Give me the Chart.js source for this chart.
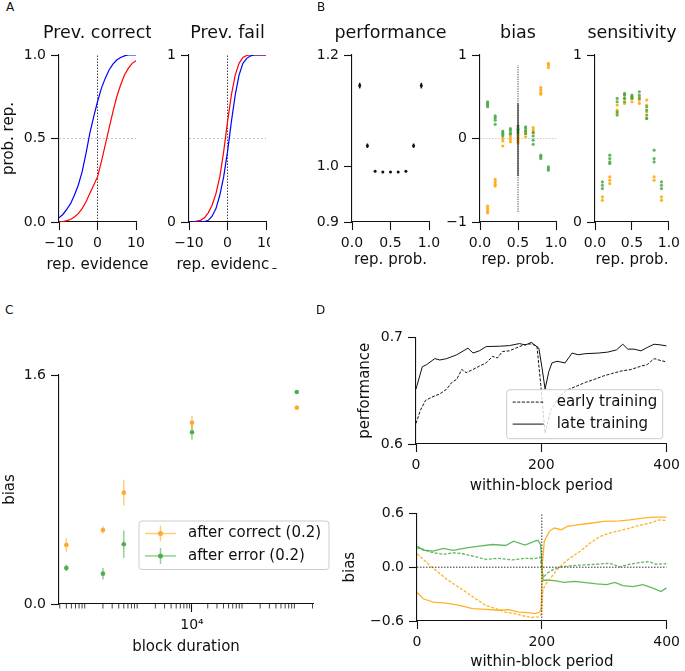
<!DOCTYPE html>
<html>
<head>
<meta charset="utf-8">
<script src="https://cdn.jsdelivr.net/npm/chart.js@4.4.1/dist/chart.umd.min.js"></script>
<style>
  body { margin: 0; width: 685px; height: 671px; background: #fff; position: relative; overflow: hidden; font-family: 'DejaVu Sans', sans-serif; }
  canvas { position: absolute; }
  .lab { position: absolute; font-size: 12px; line-height: 12px; color: #111; z-index: 5; }
</style>
</head>
<body>
<div class="lab" style="left:6px;top:1px">A</div>
<div class="lab" style="left:317px;top:1px">B</div>
<div class="lab" style="left:5px;top:304px">C</div>
<div class="lab" style="left:316px;top:304px">D</div>
<script>
// ---- data ----
// A: psychometric curves
const evidence = [-10, -9, -8, -7, -6, -5, -4, -3, -2, -1, 0, 1, 2, 3, 4, 5, 6, 7, 8, 9, 10];
const corrBlue = [0.025, 0.045, 0.075, 0.11, 0.16, 0.22, 0.30, 0.41, 0.53, 0.63, 0.72, 0.80, 0.86, 0.91, 0.945, 0.97, 0.985, 0.995, 1, 1, 1];
const corrRed = [0, 0.003, 0.008, 0.015, 0.03, 0.05, 0.08, 0.12, 0.17, 0.22, 0.27, 0.36, 0.46, 0.56, 0.66, 0.75, 0.82, 0.88, 0.92, 0.95, 0.965];
const failRed = [0, 0, 0.005, 0.01, 0.025, 0.055, 0.1, 0.17, 0.27, 0.42, 0.6, 0.76, 0.88, 0.95, 0.985, 0.997, 1, 1, 1, 1, 1];
const failBlue = [0, 0, 0, 0, 0.002, 0.01, 0.035, 0.08, 0.16, 0.27, 0.42, 0.6, 0.76, 0.88, 0.95, 0.98, 0.995, 1, 1, 1, 1];
const chanceLevel = [0.5, 0.5];
const evidenceRange = [-10, 10];

// B: per repetition probability
const repProb = [0.1, 0.2, 0.3, 0.4, 0.5, 0.6, 0.7, 0.8, 0.9];
const perf = [1.145, 1.037, 0.991, 0.99, 0.99, 0.99, 0.991, 1.037, 1.145];
const perfErr = [0.005, 0.004, 0.001, 0.001, 0.001, 0.001, 0.001, 0.004, 0.005];
const biasGreen = [
  [0.44, 0.42, 0.40, 0.38], [0.27, 0.25, 0.22, 0.17], [0.09, 0.07, 0.05, 0.03],
  [0.12, 0.10, 0.07, 0.05], [0.15, 0.12, 0.10, 0.07], [0.14, 0.12, 0.09, 0.06],
  [0.07, 0.03, -0.02, -0.07], [-0.20, -0.22, -0.24], [-0.34, -0.36, -0.38]
];
const biasOrange = [
  [-0.81, -0.84, -0.87, -0.89], [-0.49, -0.52, -0.55, -0.57], [0.0, -0.03, -0.09],
  [0.02, -0.01, -0.04], [0.04, 0.01, -0.02, -0.05], [0.09, 0.06, 0.02],
  [0.13, 0.10, 0.07], [0.61, 0.58, 0.55, 0.53], [0.90, 0.88, 0.85]
];
const biasMidDotted = [-0.88, 0.88];
const biasMidSolid = [-0.45, 0.42];
const sensGreen = [
  [0.24, 0.22, 0.20], [0.40, 0.38, 0.36, 0.35], [0.74, 0.72, 0.66, 0.64],
  [0.77, 0.76, 0.74, 0.72], [0.76, 0.75, 0.74], [0.78, 0.76, 0.74],
  [0.69, 0.67, 0.64, 0.62], [0.43, 0.38, 0.36], [0.24, 0.22, 0.20]
];
const sensOrange = [
  [0.15, 0.13], [0.27, 0.25, 0.23], [0.70, 0.67, 0.65],
  [0.76, 0.74, 0.71], [0.75, 0.74, 0.72], [0.75, 0.73, 0.71],
  [0.73, 0.70, 0.66, 0.62], [0.27, 0.25], [0.15, 0.13]
];

// C: bias vs block duration
const blockDur = [40, 200, 500, 10000, 1000000];
const afterCorrect = [0.412, 0.517, 0.778, 1.267, 1.372];
const afterCorrectErr = [0.047, 0.026, 0.09, 0.047, 0.008];
const afterError = [0.252, 0.212, 0.417, 1.2, 1.481];
const afterErrorErr = [0.023, 0.04, 0.096, 0.052, 0.008];
const minorDur = [1, 2, 3, 4, 5, 6].flatMap(n => [2, 3, 4, 5, 6, 7, 8, 9].map(k => k * Math.pow(10, n)));

// D: within-block period
const lateX = [0, 10, 17, 30, 38, 49, 65, 83, 91, 101, 112, 133, 149, 165, 175, 184, 196, 201, 206, 212, 217, 225, 238, 249, 259, 270, 291, 306, 320, 330, 338, 348, 359, 369, 380, 391, 400];
const lateY = [0.6515, 0.6724, 0.6745, 0.6801, 0.6788, 0.6801, 0.6837, 0.6899, 0.6853, 0.6874, 0.6914, 0.6917, 0.6923, 0.6942, 0.6929, 0.6954, 0.6899, 0.672, 0.6515, 0.668, 0.6761, 0.6776, 0.6761, 0.6853, 0.6837, 0.6847, 0.6853, 0.6862, 0.6883, 0.6936, 0.689, 0.689, 0.6874, 0.6905, 0.6936, 0.6929, 0.692];
const earlyX = [0, 7, 15, 25, 38, 49, 57, 65, 73, 80, 91, 101, 112, 122, 130, 138, 149, 159, 172, 183, 193, 199, 206, 215, 228, 241, 254, 270, 285, 299, 312, 327, 343, 359, 369, 380, 391, 400];
const earlyY = [0.6193, 0.6316, 0.6408, 0.6439, 0.647, 0.6515, 0.6577, 0.6607, 0.6699, 0.6669, 0.6699, 0.673, 0.6761, 0.6822, 0.6807, 0.6868, 0.6874, 0.6899, 0.6929, 0.6939, 0.692, 0.6561, 0.6101, 0.6316, 0.6439, 0.6506, 0.6537, 0.6577, 0.6607, 0.6638, 0.666, 0.6684, 0.6699, 0.673, 0.6745, 0.6801, 0.6782, 0.677];

const orangeLateX = [0, 10, 26, 47, 68, 89, 110, 131, 147, 163, 178, 189, 197, 199, 201, 204, 212, 220, 231, 241, 257, 278, 299, 325, 341, 362, 377, 400];
const orangeLateY = [-0.279, -0.352, -0.389, -0.4, -0.426, -0.462, -0.47, -0.48, -0.473, -0.5, -0.506, -0.517, -0.5, -0.45, 0.05, 0.29, 0.4, 0.437, 0.418, 0.455, 0.473, 0.49, 0.51, 0.517, 0.528, 0.547, 0.558, 0.558];
const orangeEarlyX = [0, 10, 21, 31, 47, 63, 79, 94, 110, 126, 142, 157, 173, 183, 194, 199, 202, 206, 215, 225, 236, 246, 262, 278, 294, 309, 325, 341, 356, 372, 388, 400];
const orangeEarlyY = [0.15, 0.088, 0.015, -0.04, -0.132, -0.206, -0.279, -0.352, -0.426, -0.462, -0.5, -0.517, -0.547, -0.561, -0.554, -0.53, -0.25, -0.19, -0.114, -0.022, 0.051, 0.106, 0.18, 0.272, 0.345, 0.382, 0.407, 0.437, 0.466, 0.49, 0.528, 0.521];
const greenLateX = [0, 10, 26, 42, 58, 79, 100, 121, 142, 155, 173, 189, 194, 198, 202, 207, 220, 236, 252, 267, 288, 304, 317, 330, 346, 362, 377, 391, 400];
const greenLateY = [0.235, 0.19, 0.18, 0.209, 0.187, 0.216, 0.235, 0.253, 0.242, 0.29, 0.246, 0.29, 0.3, 0.25, -0.15, -0.143, -0.15, -0.169, -0.158, -0.169, -0.187, -0.194, -0.169, -0.206, -0.217, -0.194, -0.231, -0.272, -0.231];
const greenEarlyX = [0, 10, 26, 42, 58, 73, 89, 110, 131, 152, 173, 189, 197, 202, 210, 220, 231, 246, 267, 288, 309, 325, 341, 356, 372, 383, 400];
const greenEarlyY = [0.216, 0.198, 0.161, 0.143, 0.161, 0.15, 0.125, 0.088, 0.099, 0.081, 0.099, 0.095, 0.114, -0.114, -0.059, -0.022, 0.004, 0.015, 0.026, 0.033, 0.044, 0.004, 0.033, 0.051, 0.062, 0.033, 0.04];
const switchPoint = [200, 200];
const periodRange = [0, 400];

// ---- styling ----
const ORANGE = 'rgba(255,165,0,0.85)';
const GREEN = 'rgba(60,165,60,0.8)';
const INK = '#111';
const FONT = "'DejaVu Sans', sans-serif";

Chart.defaults.font.family = FONT;
Chart.defaults.color = INK;
Chart.defaults.animation = false;
Chart.defaults.plugins.legend.display = false;
Chart.defaults.plugins.tooltip.enabled = false;

// error bars drawn under the points
Chart.register({
  id: 'errorBars',
  beforeDatasetsDraw(chart) {
    const ctx = chart.ctx, ys = chart.scales.y;
    chart.data.datasets.forEach((ds, i) => {
      if (!ds.errors) return;
      const meta = chart.getDatasetMeta(i);
      ctx.save();
      ctx.strokeStyle = ds.errorColor || ds.backgroundColor;
      ctx.lineWidth = ds.errorWidth || 1.5;
      meta.data.forEach((el, j) => {
        const v = ds.data[j].y, e = ds.errors[j];
        ctx.beginPath();
        ctx.moveTo(el.x, ys.getPixelForValue(v - e));
        ctx.lineTo(el.x, ys.getPixelForValue(v + e));
        ctx.stroke();
      });
      ctx.restore();
    });
  }
});

// axes title above and x label below, centred on the plot area and not squeezed
Chart.register({
  id: 'panelTitle',
  afterDraw(chart, args, o) {
    const {ctx, chartArea: a} = chart;
    const cx = (a.left + a.right) / 2;
    ctx.save();
    ctx.fillStyle = INK;
    ctx.textAlign = 'center';
    ctx.textBaseline = 'middle';
    if (o.text) {
      ctx.font = '17.5px ' + FONT;
      ctx.fillText(o.text, cx, a.top - 22);
    }
    if (o.xlabel) {
      ctx.font = '15px ' + FONT;
      ctx.fillText(o.xlabel, cx, a.bottom + o.xlabelGap);
    }
    ctx.restore();
  }
});

// short minor ticks for the log axis
Chart.register({
  id: 'minorTicks',
  afterDraw(chart, args, o) {
    if (!o.values) return;
    const ctx = chart.ctx, s = chart.scales.x, y0 = chart.chartArea.bottom;
    ctx.save();
    ctx.strokeStyle = INK;
    ctx.lineWidth = 0.8;
    o.values.forEach(v => {
      const px = s.getPixelForValue(v);
      if (px < s.left || px > s.right) return;
      ctx.beginPath();
      ctx.moveTo(px, y0);
      ctx.lineTo(px, y0 + 4.5);
      ctx.stroke();
    });
    ctx.restore();
  }
});

// matplotlib-like legend box inside the axes
Chart.register({
  id: 'boxLegend',
  afterDraw(chart, args, o) {
    if (!o.items) return;
    const {ctx, chartArea: a} = chart;
    const x = a.left + o.x, y = a.top + o.y;
    ctx.save();
    ctx.fillStyle = 'rgba(255,255,255,0.8)';
    ctx.strokeStyle = '#cccccc';
    ctx.lineWidth = 1;
    ctx.beginPath();
    if (ctx.roundRect) ctx.roundRect(x, y, o.w, o.h, 3); else ctx.rect(x, y, o.w, o.h);
    ctx.fill();
    ctx.stroke();
    o.items.forEach((it, k) => {
      const cy = y + o.rowTop + k * o.rowGap;
      ctx.strokeStyle = it.line;
      ctx.lineWidth = it.width || 1;
      ctx.setLineDash(it.dash || []);
      ctx.beginPath();
      ctx.moveTo(x + 6, cy);
      ctx.lineTo(x + 37, cy);
      ctx.stroke();
      ctx.setLineDash([]);
      if (it.dot) {
        ctx.lineWidth = 1.5;
        ctx.beginPath();
        ctx.moveTo(x + 21.5, cy - 8);
        ctx.lineTo(x + 21.5, cy + 8);
        ctx.stroke();
        ctx.fillStyle = it.dot;
        ctx.beginPath();
        ctx.arc(x + 21.5, cy, 2.5, 0, Math.PI * 2);
        ctx.fill();
      }
      ctx.fillStyle = INK;
      ctx.font = '15px ' + FONT;
      ctx.textBaseline = 'middle';
      ctx.fillText(it.text, x + o.textX, cy);
    });
    ctx.restore();
  }
});

const pts = (xs, ys) => xs.map((x, i) => ({x, y: ys[i]}));
const cols = (c) => c.flatMap((vals, i) => vals.map(v => ({x: repProb[i], y: v})));
const fmt = (d) => (v) => (v < 0 ? '\u2212' : '') + Math.abs(v).toFixed(d);

function line(data, color, width, dash) {
  return {data, showLine: true, borderColor: color, borderWidth: width || 1.3,
    borderDash: dash || [], pointRadius: 0, fill: false, tension: 0};
}
function dots(data, color, r, errors) {
  return {data, showLine: false, backgroundColor: color, borderWidth: 0,
    pointRadius: r, errors};
}
function axis(o) {
  return {
    type: o.type || 'linear', min: o.min, max: o.max,
    afterBuildTicks: s => { s.ticks = o.ticks.map(v => ({value: v})); },
    ticks: {callback: o.fmt, padding: 5, font: {size: 14}, color: INK, maxRotation: 0, autoSkip: false},
    grid: {drawOnChartArea: false, tickLength: 8, tickColor: INK, tickWidth: 1.1},
    border: {color: INK, width: 1.1},
    title: o.title ? {display: true, text: o.title, padding: 0, font: {size: 15}, color: INK} : {display: false}
  };
}

// g: plot area (x, y, w, h) and margins (l, t, r, b) around it
function panel(g, datasets, xs, ys, plugins) {
  const cv = document.createElement('canvas');
  cv.width = g.l + g.w + g.r;
  cv.height = g.t + g.h + g.b;
  cv.style.left = (g.x - g.l) + 'px';
  cv.style.top = (g.y - g.t) + 'px';
  if (g.bg) cv.style.background = g.bg;
  document.body.appendChild(cv);
  xs.afterFit = s => { s.height = g.b; };
  ys.afterFit = s => { s.width = g.l; };
  return new Chart(cv, {
    type: 'scatter',
    data: {datasets},
    options: {
      responsive: false,
      layout: {padding: {left: 0, top: g.t, right: g.r, bottom: 0}},
      scales: {x: xs, y: ys},
      plugins: plugins || {}
    }
  });
}

const evX = () => axis({min: -10, max: 10, ticks: [-10, 0, 10], fmt: fmt(0)});
const probX = () => axis({min: 0, max: 1, ticks: [0, 0.5, 1], fmt: fmt(1)});

// A - previous correct
panel({x: 59, y: 55, w: 77, h: 167, l: 59, t: 35, r: 15, b: 52}, [
  line(pts(evidence, corrBlue), 'blue', 1.2),
  line(pts(evidence, corrRed), 'red', 1.2),
  line(pts([0, 0], [0, 1]), INK, 0.8, [1.5, 1.5]),
  line(pts(evidenceRange, chanceLevel), '#aab0e0', 0.8, [2, 2])
], evX(), axis({min: 0, max: 1, ticks: [0, 0.5, 1], fmt: fmt(1), title: 'prob. rep.'}),
{panelTitle: {text: 'Prev. correct', xlabel: 'rep. evidence', xlabelGap: 43}});

// A - previous fail
panel({x: 189, y: 55, w: 77, h: 167, l: 40, t: 35, r: 20, b: 52}, [
  line(pts(evidence, failBlue), 'blue', 1.2),
  line(pts(evidence, failRed), 'red', 1.2),
  line(pts([0, 0], [0, 1]), INK, 0.8, [1.5, 1.5]),
  line(pts(evidenceRange, chanceLevel), '#aab0e0', 0.8, [2, 2])
], evX(), axis({min: 0, max: 1, ticks: [0, 1], fmt: fmt(0)}),
{panelTitle: {text: 'Prev. fail', xlabel: 'rep. evidence', xlabelGap: 43}});

// B - performance
panel({x: 352, y: 55, w: 77, h: 167, l: 82, t: 35, r: 20, b: 46, bg: '#fff'}, [
  Object.assign(dots(pts(repProb, perf), INK, 1.5, perfErr), {errorColor: INK, errorWidth: 1.6})
], probX(), axis({min: 0.9, max: 1.2, ticks: [0.9, 1.0, 1.2], fmt: fmt(1)}),
{panelTitle: {text: 'performance', xlabel: 'rep. prob.', xlabelGap: 38}});

// B - bias
panel({x: 480, y: 55, w: 76, h: 167, l: 35, t: 35, r: 20, b: 46}, [
  line(pts([0.5, 0.5], biasMidSolid), INK, 1.0),
  line(pts([0.5, 0.5], biasMidDotted), INK, 0.8, [1.2, 1.2]),
  dots(cols(biasGreen), GREEN, 1.6),
  dots(cols(biasOrange), ORANGE, 1.6),
  line(pts([0, 1], [0, 0]), '#bbbbbb', 0.8, [1.5, 1.5])
], probX(), axis({min: -1, max: 1, ticks: [-1, 0, 1], fmt: fmt(0)}),
{panelTitle: {text: 'bias', xlabel: 'rep. prob.', xlabelGap: 38}});

// B - sensitivity
panel({x: 595, y: 55, w: 76, h: 167, l: 35, t: 35, r: 14, b: 46}, [
  dots(cols(sensGreen), GREEN, 1.6),
  dots(cols(sensOrange), ORANGE, 1.6)
], probX(), axis({min: 0, max: 1, ticks: [0, 1], fmt: fmt(0)}),
{panelTitle: {text: 'sensitivity', xlabel: 'rep. prob.', xlabelGap: 38}});

// C - bias vs block duration (log x)
panel({x: 59, y: 375, w: 254, h: 229, l: 58, t: 15, r: 25, b: 52}, [
  Object.assign(dots(pts(blockDur, afterError), 'rgb(76,175,80)', 2.3, afterErrorErr), {errorColor: 'rgba(76,175,80,0.6)'}),
  Object.assign(dots(pts(blockDur, afterCorrect), 'rgb(255,170,40)', 2.3, afterCorrectErr), {errorColor: 'rgba(255,170,40,0.6)'})
], axis({type: 'logarithmic', min: 29, max: 2.04e6, ticks: [10000], fmt: () => '10\u2074', title: 'block duration'}),
axis({min: 0, max: 1.6, ticks: [0, 1.6], fmt: fmt(1), title: 'bias'}),
{
  minorTicks: {values: minorDur},
  boxLegend: {x: 80, y: 146, w: 190, h: 48.5, rowTop: 12.5, rowGap: 22.4, textX: 49, items: [
    {text: 'after correct (0.2)', line: 'rgba(255,170,40,0.6)', width: 1.5, dot: 'rgb(255,170,40)'},
    {text: 'after error (0.2)', line: 'rgba(76,175,80,0.6)', width: 1.5, dot: 'rgb(76,175,80)'}
  ]}
});

// D - performance in block
panel({x: 416, y: 336, w: 253, h: 108, l: 60, t: 12, r: 16, b: 51}, [
  line(pts(lateX, lateY), INK, 1.0),
  line(pts(earlyX, earlyY), INK, 1.0, [3, 1.6])
], axis({min: 0, max: 400, ticks: [0, 200, 400], fmt: fmt(0), title: 'within-block period'}),
axis({min: 0.6, max: 0.7, ticks: [0.6, 0.7], fmt: fmt(1), title: 'performance'}),
{
  boxLegend: {x: 90.7, y: 52.3, w: 156, h: 49, rowTop: 12.4, rowGap: 22, textX: 50, items: [
    {text: 'early training', line: INK, width: 1, dash: [3, 1.6]},
    {text: 'late training', line: INK, width: 1}
  ]}
});

// D - bias in block
panel({x: 417, y: 512, w: 254, h: 109, l: 76, t: 12, r: 14, b: 50}, [
  line(pts(switchPoint, [-0.6, 0.6]), '#333', 1.0, [1.5, 1.5]),
  line(pts(periodRange, [0, 0]), '#333', 1.0, [1.5, 1.5]),
  line(pts(orangeLateX, orangeLateY), ORANGE, 1.3),
  line(pts(orangeEarlyX, orangeEarlyY), ORANGE, 1.3, [3, 1.6]),
  line(pts(greenLateX, greenLateY), GREEN, 1.3),
  line(pts(greenEarlyX, greenEarlyY), GREEN, 1.3, [3, 1.6])
], axis({min: 0, max: 400, ticks: [0, 200, 400], fmt: fmt(0), title: 'within-block period'}),
axis({min: -0.6, max: 0.6, ticks: [-0.6, 0, 0.6], fmt: fmt(1), title: 'bias'}));
</script>
</body>
</html>
